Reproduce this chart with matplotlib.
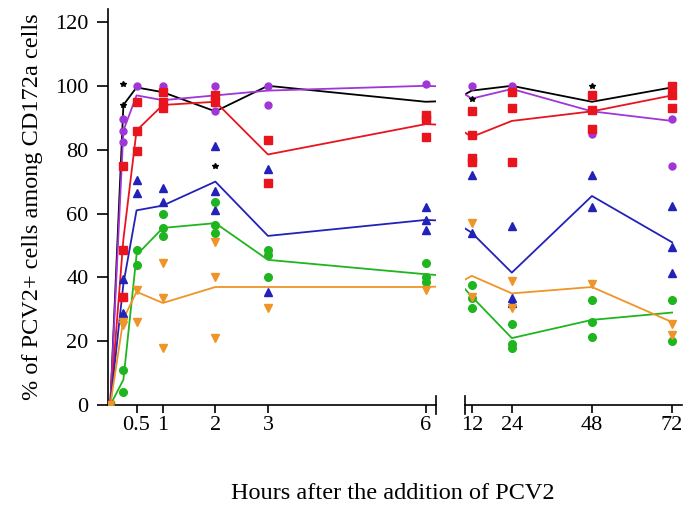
import matplotlib
matplotlib.use("Agg")
from matplotlib import pyplot as plt

plt.rcParams['font.family'] = ['Liberation Serif', 'DejaVu Serif']

times = [0, 0.25, 0.5, 1, 2, 3, 6, 12, 24, 48, 72]

# mean lines
black_mean = [0, 94, 99.5, 98, 92, 100, 95, 98.5, 100, 95, 99.5]
purple_mean = [0, 86, 97, 95.5, 97, 98.5, 100, 96, 99, 92, 89]
red_mean = [0, 52, 86, 94, 95, 78.5, 88, 84, 89, 92, 97]
blue_mean = [0, 38, 61, 62.5, 70, 53, 58, 54, 41.5, 65.5, 51]
green_mean = [0, 8, 47, 55.5, 57, 45.5, 41, 34, 21, 26.7, 29]
orange_mean = [0, 27, 35.5, 32, 37, 37, 37, 40.5, 35, 37, 26]

# single replicates, one list per time point
black_reps = [[0], [100.5, 94], [], [], [75], [], [], [96], [], [100], []]
purple_reps = [[0], [89.5, 86, 82.5], [100], [100], [100, 92], [100, 94], [100.5],
               [100], [100], [85], [89.5, 75]]
red_reps = [[0], [75, 48.5, 34], [95, 86, 79.5], [98, 95, 93], [97, 95], [83, 69.5],
            [91, 89.5, 84], [92, 84.5, 77.5, 76], [98, 93, 76], [97, 92.5, 86.5],
            [100, 97, 93]]
blue_reps = [[0], [39.5, 29], [70.5, 66.5], [68, 63.5], [81, 67, 61], [74, 35.5],
             [62, 58, 55], [72, 54], [56, 33.5, 32], [72, 62], [62.5, 49.5, 41.5]]
green_reps = [[0], [11, 4], [48.5, 44], [60, 55.5, 53], [63.5, 56.5, 54], [48.5, 47, 40],
              [44.5, 40, 38.5], [37.5, 33.5, 30.5], [25.5, 19, 18], [33, 26, 21.5],
              [33, 20]]
orange_reps = [[0], [26, 25], [36, 26], [44.5, 33.5, 18], [51, 40, 21], [30.5], [36],
               [57, 34], [39, 30.5], [38], [25.5, 22]]

series = [
    (black_mean, black_reps, '#000000', '*', 4),
    (purple_mean, purple_reps, '#a035d8', 'o', 5),
    (red_mean, red_reps, '#e8141e', 's', 6),
    (blue_mean, blue_reps, '#2222b8', '^', 5.5),
    (green_mean, green_reps, '#1fb51f', 'o', 5.5),
    (orange_mean, orange_reps, '#ef9428', 'v', 5.5),
]

fig = plt.figure(figsize=(6.89, 5.09), dpi=100)
ax1 = fig.add_axes([0.157, 0.204, 0.476, 0.778])
ax2 = fig.add_axes([0.675, 0.204, 0.315, 0.778])

for ax in (ax1, ax2):
    for mean, reps, col, mk, ms in series:
        ax.plot(times, mean, color=col, lw=1.3, zorder=2)
        for t, vals in zip(times, reps):
            ax.plot([t] * len(vals), vals, linestyle='none', marker=mk, ms=ms,
                    color=col, mec=col, zorder=3)
    ax.set_ylim(0, 124)
    ax.spines['top'].set_visible(False)
    ax.spines['right'].set_visible(False)
    ax.tick_params(labelsize=16, direction='out', width=1.2, length=6)

ax1.set_xlim(-0.04, 6.2)
ax1.set_xticks([0.5, 1, 2, 3, 6])
ax1.set_xticklabels(['0.5', '1', '2', '3', '6'])
ax1.set_yticks([0, 20, 40, 60, 80, 100, 120])
ax1.spines['left'].set_linewidth(1.2)
ax1.spines['bottom'].set_linewidth(1.2)
ax1.tick_params(axis='x', pad=2)
ax1.tick_params(axis='y', length=8, pad=6)

ax2.set_xlim(10, 75)
ax2.set_xticks([12, 24, 48, 72])
ax2.set_yticks([])
ax2.spines['left'].set_visible(False)
ax2.spines['bottom'].set_linewidth(1.2)
ax2.tick_params(axis='x', pad=2)

# break marks at the gap
ax1.plot([1, 1], [-0.022, 0.022], transform=ax1.transAxes, color='black', lw=1.2, clip_on=False)
ax2.plot([0, 0], [-0.022, 0.022], transform=ax2.transAxes, color='black', lw=1.2, clip_on=False)

ax1.set_ylabel('% of PCV2+ cells among CD172a cells', fontsize=17.5)
ax1.yaxis.set_label_coords(-0.2, 0.5)
fig.text(0.57, 0.02, 'Hours after the addition of PCV2', fontsize=17.5, ha='center')

fig.savefig('out.png', dpi=100)
